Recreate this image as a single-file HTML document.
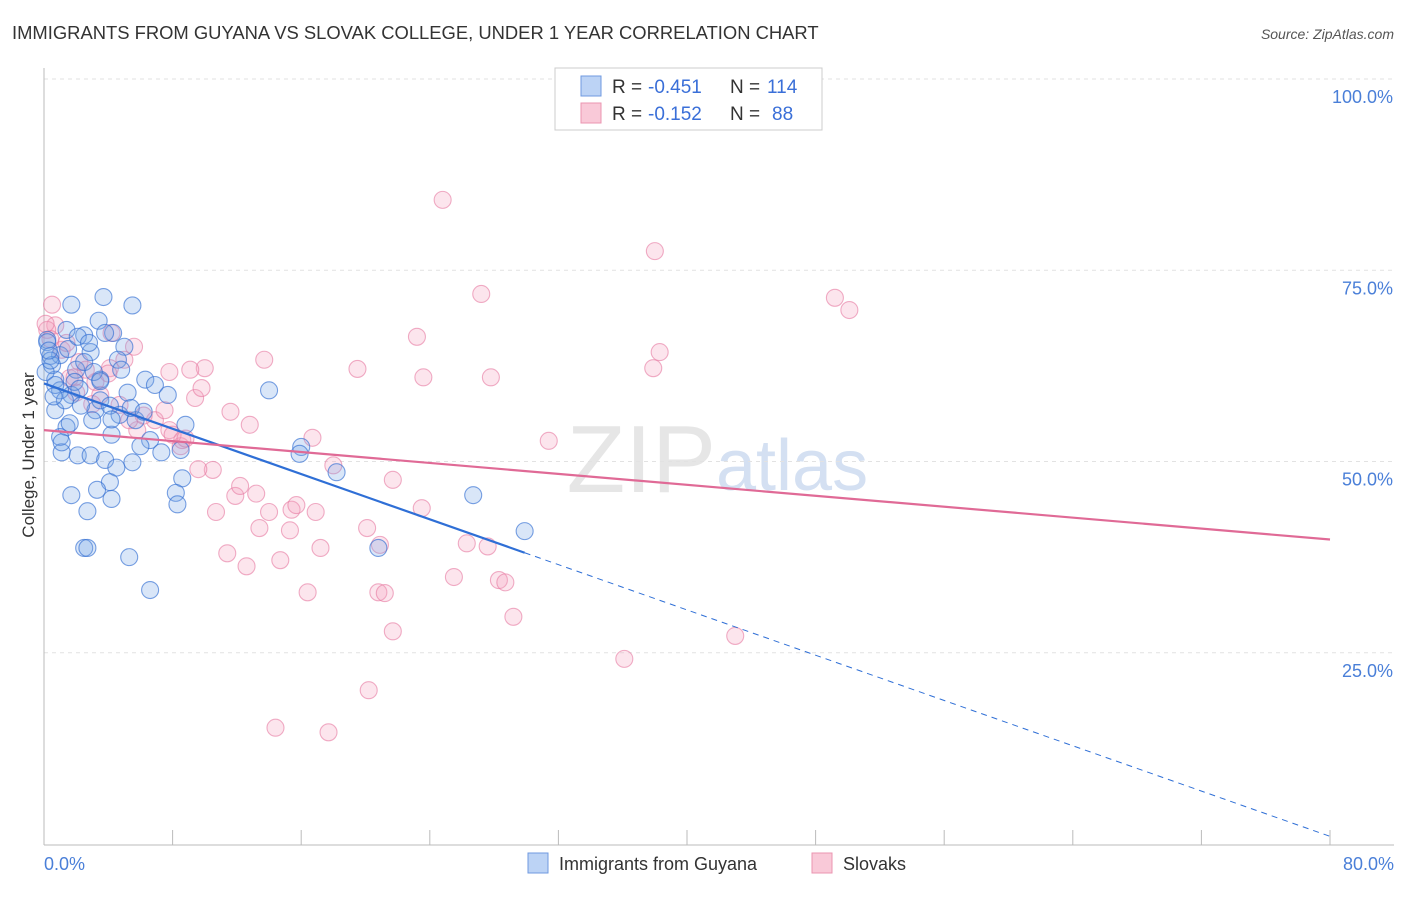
<!DOCTYPE html>
<html><head><meta charset="utf-8"><style>
body{margin:0;background:#fff;font-family:"Liberation Sans",sans-serif;}
svg text{font-family:"Liberation Sans",sans-serif;}
</style></head><body>
<svg id="chart" width="1406" height="892">
<text x="12" y="39" font-size="18.4" fill="#333">IMMIGRANTS FROM GUYANA VS SLOVAK COLLEGE, UNDER 1 YEAR CORRELATION CHART</text>
<text x="1394" y="39" font-size="14" fill="#555" font-style="italic" text-anchor="end">Source: ZipAtlas.com</text>
<text x="716" y="492" font-size="96" fill="#e6e6e6" font-family="Liberation Serif" text-anchor="end">ZIP</text>
<text x="716" y="490" font-size="72" fill="#d4e0f2">atlas</text>
<g id="grid"></g>
<line x1="44" y1="68" x2="44" y2="845" stroke="#bbb"/>
<line x1="44" y1="845" x2="1394" y2="845" stroke="#bbb"/>
<g id="ticks"></g>
<text x="34" y="455" font-size="17" fill="#333" text-anchor="middle" transform="rotate(-90 34 455)">College, Under 1 year</text>
<text x="44" y="870" font-size="18" fill="#4a7fd8">0.0%</text>
<text x="1394" y="870" font-size="18" fill="#4a7fd8" text-anchor="end">80.0%</text>
<g id="points"></g>
<g id="trends"></g>
<g>
<rect x="555" y="68" width="267" height="62" fill="#fff" stroke="#ccc"/>
<rect x="581" y="76" width="20" height="20" fill="#bcd3f5" stroke="#6f9ae0"/>
<rect x="581" y="103" width="20" height="20" fill="#f9c9d8" stroke="#eb95b0"/>
<text x="612" y="93" font-size="19" fill="#333">R =</text>
<text x="648" y="93" font-size="19" fill="#3a6fd8">-0.451</text>
<text x="730" y="93" font-size="19" fill="#333">N =</text>
<text x="767" y="93" font-size="19" fill="#3a6fd8">114</text>
<text x="612" y="120" font-size="19" fill="#333">R =</text>
<text x="648" y="120" font-size="19" fill="#3a6fd8">-0.152</text>
<text x="730" y="120" font-size="19" fill="#333">N =</text>
<text x="772" y="120" font-size="19" fill="#3a6fd8">88</text>
</g>
<g>
<rect x="528" y="853" width="20" height="20" fill="#bcd3f5" stroke="#6f9ae0"/>
<text x="559" y="870" font-size="18" fill="#333">Immigrants from Guyana</text>
<rect x="812" y="853" width="20" height="20" fill="#f9c9d8" stroke="#eb95b0"/>
<text x="843" y="870" font-size="18" fill="#333">Slovaks</text>
</g>
</svg>
<script>
const yTicks=[25,50,75,100];
const yTickLabels=["25.0%","50.0%","75.0%","100.0%"];
const xTicks=[0,8,16,24,32,40,48,56,64,72,80];
const blueX=[1.7,3.7,5.5,3.4,1.4,2.5,4.3,5.0,0.2,1.0,2.9,4.6,2.0,0.7,3.5,6.3,6.9,7.7,5.2,1.7,0.7,3.2,4.7,3.0,5.7,1.4,8.8,4.2,6.6,1.0,2.1,1.1,2.9,7.3,8.5,3.8,5.5,4.5,4.1,8.6,1.7,3.3,4.2,8.2,8.3,2.7,2.5,2.7,5.3,6.6,14.0,16.0,15.9,18.2,20.8,26.7,29.9,0.2,0.4,0.5,0.1,1.0,1.3,2.3,3.5,4.1,1.9,2.5,3.1,3.8,0.4,0.7,1.5,2.1,4.2,5.4,6.0,1.6,1.1,3.5,0.3,0.6,2.2,2.8,4.8,6.2];
const blueY=[70.5,71.5,70.4,68.4,67.2,66.5,66.8,65,65.9,63.9,64.3,63.3,62,60.7,60.7,60.7,60.0,58.7,59,58.7,56.7,56.7,56.1,55.4,55.4,54.5,54.8,53.5,52.8,53.2,50.8,51.2,50.8,51.2,51.5,50.2,49.9,49.2,47.3,47.8,45.6,46.3,45.1,45.9,44.4,43.5,38.7,38.7,37.5,33.2,59.3,51.9,51,48.6,38.7,45.6,40.9,65.6,63.8,62.6,61.7,59.3,58.0,57.3,58.0,57.3,60.4,63.0,61.7,66.8,63.2,60.0,64.7,66.3,55.5,57.0,52.0,55.0,52.5,60.5,64.5,58.5,59.5,65.5,62.0,56.5];
const pinkX=[0.5,0.7,0.2,1.1,2.2,3.2,4.2,5.0,7.8,9.4,9.8,6.9,7.5,8.5,7.8,8.6,5.8,5.3,4.7,3.5,4.1,1.6,24.8,27.2,38.0,49.2,50.1,23.2,38.3,37.9,19.5,23.6,27.8,31.4,16.7,18.0,21.7,23.5,20.1,20.9,26.3,27.6,25.5,28.3,28.7,20.8,21.2,16.4,21.7,29.2,36.1,43.0,20.2,14.4,17.7,13.7,10.0,9.1,11.6,12.8,10.5,10.7,11.4,12.6,13.4,14.0,15.4,15.7,16.9,17.2,14.7,11.9,12.2,13.2,15.3,1.4,2.6,3.0,0.4,6.2,8.0,8.8,9.6,4.0,2.0,5.6,0.1,1.9];
const pinkY=[70.5,67.8,67.2,64.6,63,60.4,66.8,63.3,61.7,58.3,59.6,55.4,56.7,52,54.1,52.8,54.1,55.4,57.4,58.7,62.2,60.9,84.2,71.9,77.5,71.4,69.8,66.3,64.3,62.2,62.1,61,61,52.7,53.1,49.5,47.6,43.9,41.3,39.1,39.3,38.9,34.9,34.5,34.2,32.9,32.8,32.9,27.8,29.7,24.2,27.2,20.1,15.2,14.6,63.3,62.2,62,56.5,54.8,48.9,43.4,38,36.3,41.3,43.4,43.7,44.3,43.4,38.7,37.1,45.5,46.8,45.8,41,65.5,62.0,57.5,66.0,56.0,53.5,53.0,49.0,61.5,59.0,65.0,68.0,61.0];
const blueTrend=[0,60.2,29.9,80,1.0];
const pinkTrend=[0,54.1,80,39.8];
const NS="http://www.w3.org/2000/svg";
function xs(v){return 44+v/80*1286;}
function ys(v){return 844-v*7.65;}
function mk(tag,attrs,parent){const e=document.createElementNS(NS,tag);for(const k in attrs)e.setAttribute(k,attrs[k]);document.getElementById(parent).appendChild(e);return e;}
yTicks.forEach((t,i)=>{
 const l=mk('line',{x1:44,x2:1394,y1:ys(t),y2:ys(t),stroke:'#e2e2e2','stroke-dasharray':'4,4'},'grid');
 
 
 const tx=mk('text',{x:1393,y:ys(t)+24,'font-size':18,fill:'#4a7fd8','text-anchor':'end'},'grid');
 tx.textContent=yTickLabels[i];
 
 
});
xTicks.forEach(t=>{
 const l=mk('line',{x1:xs(t),x2:xs(t),y1:830,y2:845,stroke:'#bbb'},'ticks');
 
 
});
pinkX.forEach((v,i)=>{
 const c=mk('circle',{cx:xs(v),cy:ys(pinkY[i]),r:8.5,fill:'rgba(244,160,190,0.28)',stroke:'rgba(230,120,160,0.6)','stroke-width':1.1},'points');
 
 
});
blueX.forEach((v,i)=>{
 const c=mk('circle',{cx:xs(v),cy:ys(blueY[i]),r:8.5,fill:'rgba(120,165,230,0.28)',stroke:'rgba(50,110,210,0.65)','stroke-width':1.1},'points');
 
 
});
const slope=(blueTrend[4]-blueTrend[1])/(blueTrend[3]-blueTrend[0]);
const bSolidEnd=blueTrend[1]+slope*blueTrend[2];
let l1=mk('line',{x1:xs(blueTrend[0]),y1:ys(blueTrend[1]),x2:xs(blueTrend[2]),y2:ys(bSolidEnd),stroke:'#2f6fd6','stroke-width':2.2},'trends');


let l2=mk('line',{x1:xs(blueTrend[2]),y1:ys(bSolidEnd),x2:xs(blueTrend[3]),y2:ys(blueTrend[4]),stroke:'#2f6fd6','stroke-width':1,'stroke-dasharray':'6,5'},'trends');


let l3=mk('line',{x1:xs(pinkTrend[0]),y1:ys(pinkTrend[1]),x2:xs(pinkTrend[2]),y2:ys(pinkTrend[3]),stroke:'#e06a96','stroke-width':2.2},'trends');


</script>
</body></html>
